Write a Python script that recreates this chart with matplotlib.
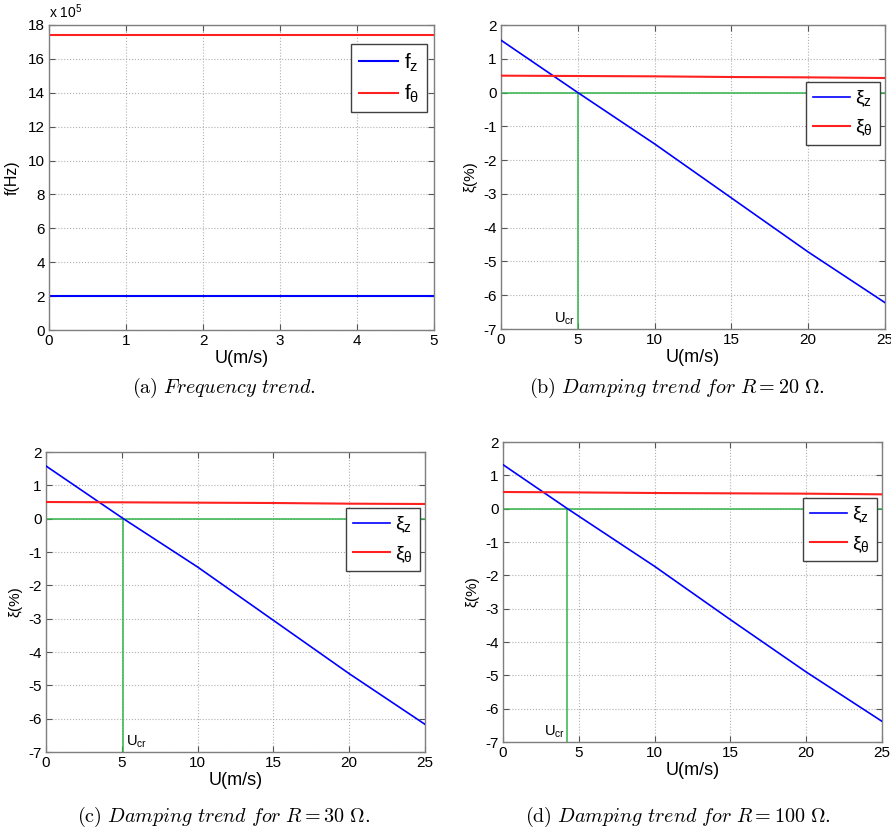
import matplotlib
matplotlib.use("Agg")
import matplotlib.pyplot as plt

plt.rcParams['font.family'] = ['Liberation Sans', 'DejaVu Sans']
plt.rcParams['mathtext.fontset'] = 'custom'
plt.rcParams['mathtext.rm'] = 'Liberation Sans'
plt.rcParams['mathtext.it'] = 'Liberation Sans:italic'
plt.rcParams['mathtext.bf'] = 'Liberation Sans:bold'
plt.rcParams['axes.unicode_minus'] = False

# ---------------- data ----------------
# (a) frequency trend
u_a = [0, 5]
f_z = [2.0e5, 2.0e5]
f_theta = [17.4e5, 17.4e5]

# (b) R = 20 ohm
u_b = [0, 5, 10, 15, 20, 25]
xi_z_b = [1.55, 0.0, -1.52, -3.12, -4.72, -6.22]
xi_t_b = [0.50, 0.49, 0.48, 0.46, 0.45, 0.43]
ucr_b = 5.0

# (c) R = 30 ohm
u_c = [0, 5.1, 10, 15, 20, 25]
xi_z_c = [1.58, 0.0, -1.45, -3.05, -4.65, -6.17]
xi_t_c = [0.50, 0.49, 0.48, 0.47, 0.45, 0.44]
ucr_c = 5.1

# (d) R = 100 ohm
u_d = [0, 4.25, 10, 15, 20, 25]
xi_z_d = [1.32, 0.0, -1.73, -3.33, -4.90, -6.38]
xi_t_d = [0.50, 0.49, 0.47, 0.46, 0.45, 0.43]
ucr_d = 4.25

captions = [r"$\mathrm{(a)}\ \mathit{Frequency\ trend.}$",
            r"$\mathrm{(b)}\ \mathit{Damping\ trend\ for\ R{=}20}\ \Omega.$",
            r"$\mathrm{(c)}\ \mathit{Damping\ trend\ for\ R{=}30}\ \Omega.$",
            r"$\mathrm{(d)}\ \mathit{Damping\ trend\ for\ R{=}100}\ \Omega.$"]

W, H = 891, 831
fig = plt.figure(figsize=(W / 100, H / 100), dpi=100)

def box(l, t, r, b):
    return [l / W, 1 - b / H, (r - l) / W, (b - t) / H]

SPINE = '#7f7f7f'

def style(ax):
    for s in ax.spines.values():
        s.set_color(SPINE)
        s.set_linewidth(1.0)
    ax.tick_params(direction='in', length=4, width=0.8, color='#555555',
                   top=True, right=True, labelsize=11, pad=3)
    ax.grid(True, linestyle=':', color='#b0b0b0', linewidth=0.8)
    ax.set_axisbelow(True)

BLUE = '#0000ff'
RED = '#ff2020'
GREEN = '#33b44a'

def legend(ax, anchor, fs):
    leg = ax.legend(loc='upper right', bbox_to_anchor=anchor, fontsize=fs,
                    fancybox=False, framealpha=1, edgecolor='#404040',
                    handlelength=1.9, handletextpad=0.3, borderpad=0.35,
                    labelspacing=0.45, borderaxespad=0.0)
    leg.get_frame().set_linewidth(1.0)
    leg.set_zorder(5)
    return leg

# ---------------- (a) ----------------
ax = fig.add_axes(box(49, 25, 434, 330))
style(ax)
ax.plot(u_a, [v / 1e5 for v in f_z], color=BLUE, lw=1.5, label=r'f$_\mathrm{z}$')
ax.plot(u_a, [v / 1e5 for v in f_theta], color=RED, lw=1.5, label=r'f$_\mathrm{θ}$')
ax.set_xlim(0, 5)
ax.set_ylim(0, 18)
ax.set_xticks(range(0, 6))
ax.set_yticks(range(0, 19, 2))
ax.set_xlabel('U(m/s)', fontsize=13, labelpad=1)
ax.set_ylabel('f(Hz)', fontsize=11.5, labelpad=6)
ax.text(0.0, 1.012, r'x 10$^5$', transform=ax.transAxes, fontsize=10, ha='left', va='bottom')
legend(ax, (0.982, 0.938), 15)
fig.text(224 / W, 1 - 388 / H, captions[0], fontsize=14.5, ha='center', va='center',
         math_fontfamily='cm')

def damping(rect, u, xz, xt, ucr, label_side, cap, cap_x, cap_y):
    ax = fig.add_axes(box(*rect))
    style(ax)
    ax.plot([0, 25], [0, 0], color=GREEN, lw=1.1, zorder=2)
    ax.plot([ucr, ucr], [0, -7], color=GREEN, lw=1.1, zorder=2)
    ax.plot(u, xz, color=BLUE, lw=1.2, label=r'ξ$_\mathrm{z}$', zorder=3)
    ax.plot(u, xt, color=RED, lw=1.5, label=r'ξ$_\mathrm{θ}$', zorder=3)
    ax.set_xlim(0, 25)
    ax.set_ylim(-7, 2)
    ax.set_xticks(range(0, 26, 5))
    ax.set_yticks(range(-7, 3))
    ax.set_xlabel('U(m/s)', fontsize=13, labelpad=1)
    ax.set_ylabel('ξ(%)', fontsize=11, labelpad=4)
    if label_side == 'left':
        ax.text(ucr - 0.15, -6.95, r'U$_\mathrm{cr}$', fontsize=10.5, ha='right', va='bottom')
    else:
        ax.text(ucr + 0.15, -6.95, r'U$_\mathrm{cr}$', fontsize=10.5, ha='left', va='bottom')
    l, t, r, b = rect
    legend(ax, (0.987, 1 - 57 / 304), 14)
    fig.text(cap_x / W, 1 - cap_y / H, cap, fontsize=14.5, ha='center', va='center',
             math_fontfamily='cm')
    return ax

damping((501, 25, 885, 329), u_b, xi_z_b, xi_t_b, ucr_b, 'left', captions[1], 677, 388)
damping((46, 452, 425, 752), u_c, xi_z_c, xi_t_c, ucr_c, 'right', captions[2], 224, 817)
damping((503, 442, 882, 742), u_d, xi_z_d, xi_t_d, ucr_d, 'left', captions[3], 678, 817)

fig.savefig('out.png', dpi=100)
